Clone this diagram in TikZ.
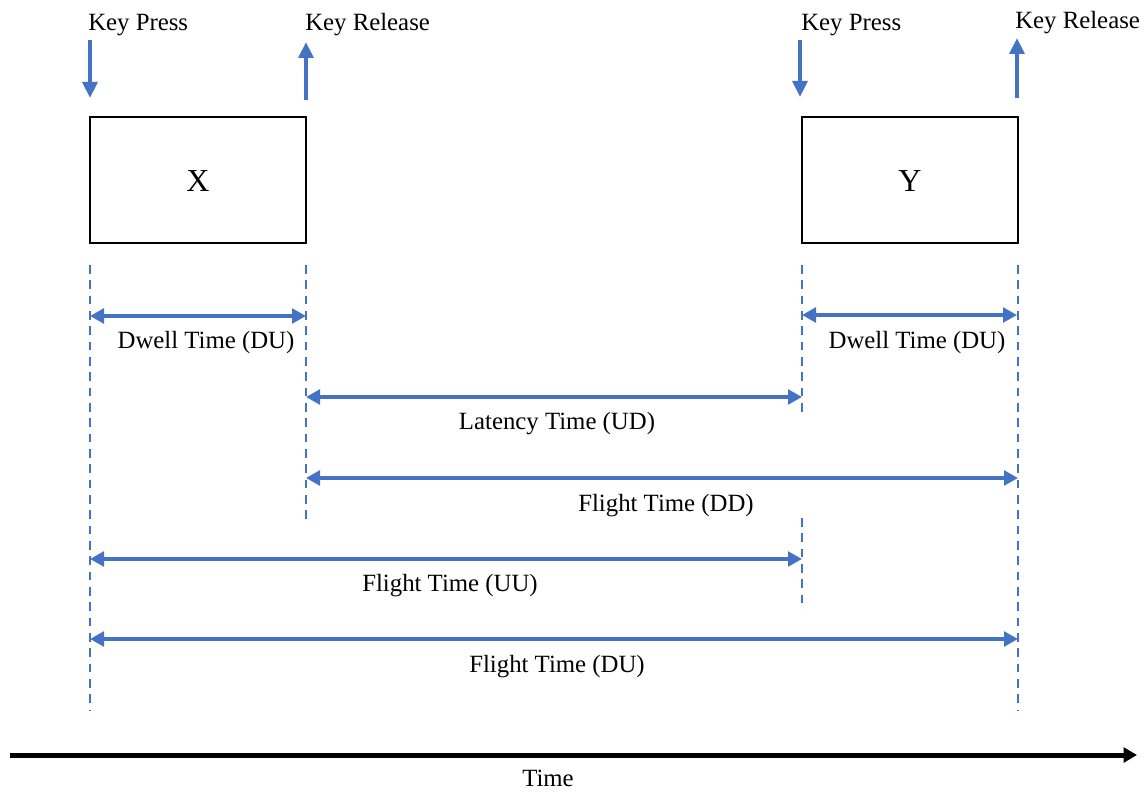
\documentclass[tikz,border=0pt]{standalone}
\usepackage{fontspec}
\setmainfont{Liberation Serif}
\usetikzlibrary{arrows.meta}
\definecolor{myblue}{HTML}{4472C4}
\begin{document}
\begin{tikzpicture}[x=0.75pt,y=-0.75pt,
  txt/.style={font=\fontsize{18.6}{22}\selectfont, inner sep=0pt},
  keybox/.style={draw=black, line width=1.5pt, minimum width=162pt, minimum height=94.5pt, inner sep=0pt},
  boxlbl/.style={font=\fontsize{24}{28}\selectfont, inner sep=0pt},
  span/.style={draw=myblue, line width=3.3pt, {Triangle[length=10.5pt,width=11pt]}-{Triangle[length=10.5pt,width=11pt]}},
  evt/.style={draw=myblue, line width=3.3pt, -{Triangle[length=12pt,width=11pt]}},
  guide/.style={draw=myblue, line width=2.1pt, dash pattern=on 6.5pt off 5pt},
  timeline/.style={draw=black, line width=3.75pt, -{Triangle[length=10pt,width=11pt]}}]
\useasboundingbox (0,0) rectangle (1145,792);

% boxes
\node[keybox] (bx) at (198,180) {};
\node[boxlbl] (lx) at (198,181) {X};
\node[keybox] (by) at (910,180) {};
\node[boxlbl] (ly) at (910,181) {Y};

% key event labels
\node[txt, anchor=west] (kp1) at (88,25) {Key Press};
\node[txt, anchor=west] (kr1) at (305,25) {Key Release};
\node[txt, anchor=west] (kp2) at (801,25) {Key Press};
\node[txt, anchor=west] (kr2) at (1015,23) {Key Release};

% key event arrows
\coordinate (kp1a) at (90,40);  \coordinate (kp1b) at (90,98);
\coordinate (kr1a) at (306,100); \coordinate (kr1b) at (306,42);
\coordinate (kp2a) at (800,40); \coordinate (kp2b) at (800,97);
\coordinate (kr2a) at (1017,98); \coordinate (kr2b) at (1017,38);
\draw[evt] (kp1a) -- (kp1b);
\draw[evt] (kr1a) -- (kr1b);
\draw[evt] (kp2a) -- (kp2b);
\draw[evt] (kr2a) -- (kr2b);

% guide lines
\coordinate (g1t) at (90,265);   \coordinate (g1b) at (90,710);
\coordinate (g2t) at (306,265);  \coordinate (g2b) at (306,522);
\coordinate (g3t) at (802,265);  \coordinate (g3b) at (802,418);
\coordinate (g3c) at (802,518);  \coordinate (g3d) at (802,610);
\coordinate (g4t) at (1018,265); \coordinate (g4b) at (1018,710);
\draw[guide] (g1t) -- (g1b);
\draw[guide] (g2t) -- (g2b);
\draw[guide] (g3t) -- (g3b);
\draw[guide] (g3c) -- (g3d);
\draw[guide] (g4t) -- (g4b);

% spans
\coordinate (d1a) at (90,316);  \coordinate (d1b) at (306,316);
\coordinate (d2a) at (802,315); \coordinate (d2b) at (1017,315);
\coordinate (la) at (306,397);  \coordinate (lb) at (802,397);
\coordinate (fda) at (306,478); \coordinate (fdb) at (1018,478);
\coordinate (fua) at (90,559);  \coordinate (fub) at (802,559);
\coordinate (fxa) at (90,639);  \coordinate (fxb) at (1018,639);
\draw[span] (d1a) -- (d1b);
\draw[span] (d2a) -- (d2b);
\draw[span] (la) -- (lb);
\draw[span] (fda) -- (fdb);
\draw[span] (fua) -- (fub);
\draw[span] (fxa) -- (fxb);

\node[txt] (t1) at (206,343) {Dwell Time (DU)};
\node[txt] (t2) at (917,343) {Dwell Time (DU)};
\node[txt] (t3) at (557,424) {Latency Time (UD)};
\node[txt] (t4) at (666,506) {Flight Time (DD)};
\node[txt] (t5) at (450,586) {Flight Time (UU)};
\node[txt] (t6) at (557,667) {Flight Time (DU)};

% time axis
\coordinate (ta) at (10,755); \coordinate (tb) at (1137,755);
\draw[timeline] (ta) -- (tb);
\node[txt] (tt) at (548,778) {Time};
\end{tikzpicture}
\end{document}
